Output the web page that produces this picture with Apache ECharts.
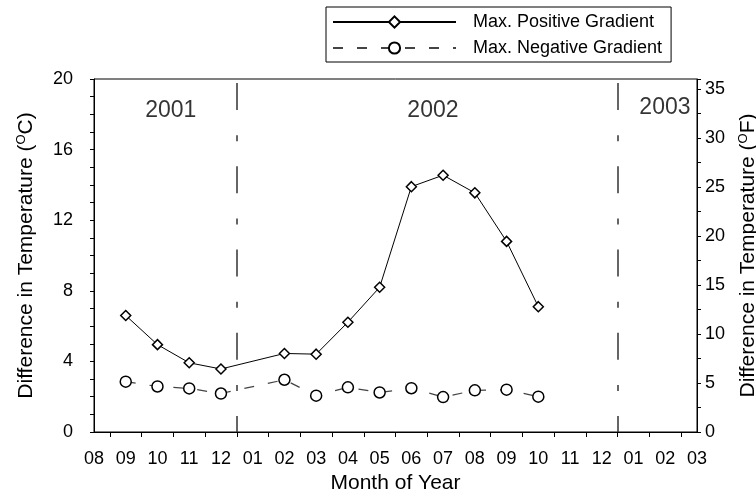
<!DOCTYPE html>
<html>
<head>
<meta charset="utf-8">
<script src="https://cdn.jsdelivr.net/npm/echarts@6/dist/echarts.min.js"></script>
<style>html,body{margin:0;padding:0;background:#fff}#c{width:756px;height:492px}</style>
</head>
<body>
<div id="c"></div>
<script>
// Month tick labels (index 0 = Aug 2001 ... 19 = Mar 2003)
const monthLabels = ['08','09','10','11','12','01','02','03','04','05','06','07','08','09','10','11','12','01','02','03'];
// Month index for each measurement
const posMonths = [1,2,3,4,6,7,8,9,10,11,12,13,14];
const posValues = [6.6,4.95,3.92,3.57,4.45,4.41,6.22,8.2,13.9,14.55,13.55,10.8,7.1];
const negMonths = [1,2,3,4,6,7,8,9,10,11,12,13,14];
const negValues = [2.85,2.58,2.47,2.18,2.96,2.06,2.53,2.24,2.48,1.98,2.36,2.4,2.0];
// Year boundaries (month index) and year labels
const yearBoundaries = [4.5, 16.5];
const yearLabels = [['2001', 2.42, 18.2], ['2002', 10.68, 18.2], ['2003', 17.99, 18.4]];

const FONT = '"Liberation Sans", Arial, Helvetica, sans-serif';
const chart = echarts.init(document.getElementById('c'), null, {renderer: 'canvas'});

const posData = posMonths.map((m, i) => [m, posValues[i]]);
const negData = negMonths.map((m, i) => [m, negValues[i]]);

chart.setOption({
  animation: false,
  backgroundColor: '#fff',
  textStyle: {fontFamily: FONT, color: '#000'},
  grid: {left: 94, right: 59, top: 79, bottom: 60, show: true, borderColor: '#000', borderWidth: 1,
    backgroundColor: 'transparent', containLabel: false, outerBoundsMode: 'none'},
  legend: {
    left: 326, top: 7, orient: 'vertical',
    data: ['Max. Positive Gradient', 'Max. Negative Gradient'],
    borderColor: '#000', borderWidth: 1, padding: [6, 9, 5, 6],
    itemWidth: 123, itemHeight: 14, itemGap: 8,
    textStyle: {fontSize: 18, fontFamily: FONT, color: '#000', padding: [0, 0, 0, 12]}
  },
  xAxis: {
    type: 'value', min: 0, max: monthLabels.length - 1, interval: 1,
    name: 'Month of Year', nameLocation: 'middle', nameGap: 35,
    nameTextStyle: {fontSize: 21, fontFamily: FONT, color: '#000'},
    axisLine: {show: true, lineStyle: {color: '#000', width: 1}},
    axisTick: {show: false},
    minorTick: {show: true, splitNumber: 2, length: 5, lineStyle: {color: '#000', width: 1}},
    splitLine: {show: false}, minorSplitLine: {show: false},
    axisLabel: {fontSize: 18, fontFamily: FONT, color: '#000', margin: 18,
      formatter: v => monthLabels[Math.round(v)] || ''}
  },
  yAxis: [{
    type: 'value', min: 0, max: 20, interval: 4, position: 'left',
    name: '{a|Difference in Temperature (}{s|O}{a|C)}', nameLocation: 'middle', nameGap: 56, nameRotate: 90,
    nameTextStyle: {rich: {
      a: {fontSize: 21, fontFamily: FONT, color: '#000', lineHeight: 24, verticalAlign: 'middle'},
      s: {fontSize: 13, fontFamily: FONT, color: '#000', lineHeight: 24, verticalAlign: 'top', padding: [1, 0, 0, 0]}
    }},
    axisLine: {show: true, lineStyle: {color: '#000', width: 1}},
    axisTick: {show: true, length: 4, lineStyle: {color: '#000'}},
    minorTick: {show: true, splitNumber: 4, length: 4, lineStyle: {color: '#000'}},
    splitLine: {show: false},
    axisLabel: {fontSize: 18, fontFamily: FONT, color: '#000', margin: 21}
  }, {
    type: 'value', min: 0, max: 36, interval: 5, position: 'right',
    name: '{a|Difference in Temperature (}{s|O}{a|F)}', nameLocation: 'middle', nameGap: 39, nameRotate: 90,
    nameTextStyle: {rich: {
      a: {fontSize: 21, fontFamily: FONT, color: '#000', lineHeight: 24, verticalAlign: 'middle'},
      s: {fontSize: 13, fontFamily: FONT, color: '#000', lineHeight: 24, verticalAlign: 'top', padding: [1, 0, 0, 0]}
    }},
    axisLine: {show: true, lineStyle: {color: '#000', width: 1}},
    axisTick: {show: true, length: 4, lineStyle: {color: '#000'}},
    minorTick: {show: true, splitNumber: 2, length: 4, lineStyle: {color: '#000'}},
    splitLine: {show: false},
    axisLabel: {fontSize: 18, fontFamily: FONT, color: '#000', margin: 8,
      formatter: v => (v % 5 === 0 ? String(v) : '')}
  }],
  series: [{
    name: 'Max. Positive Gradient', type: 'line', data: posData, yAxisIndex: 0,
    symbol: 'diamond', symbolSize: 10, showAllSymbol: true,
    lineStyle: {color: '#000', width: 1, type: 'solid'},
    itemStyle: {color: '#fff', borderColor: '#000', borderWidth: 1.5},
    z: 5
  }, {
    name: 'Max. Negative Gradient', type: 'line', data: negData, yAxisIndex: 0,
    symbol: 'circle', symbolSize: 11, showAllSymbol: true,
    lineStyle: {color: '#444', width: 1.2, type: [10, 14]},
    itemStyle: {color: '#fff', borderColor: '#000', borderWidth: 1.5},
    z: 5,
    markLine: {
      silent: true, symbol: 'none', animation: false,
      label: {show: false},
      lineStyle: {color: '#333', width: 1.5, type: [27, 25, 6, 25.25], dashOffset: 11},
      data: yearBoundaries.map(x => ({xAxis: x}))
    }
  }, {
    name: 'years', type: 'scatter', yAxisIndex: 0, symbolSize: 0, silent: true,
    data: yearLabels.map(d => ({value: [d[1], d[2]], name: d[0]})),
    label: {show: true, position: 'inside', formatter: p => p.name, fontSize: 23, fontFamily: FONT, color: '#000', textBorderWidth: 0},
    z: 6
  }]
});
</script>
</body>
</html>
